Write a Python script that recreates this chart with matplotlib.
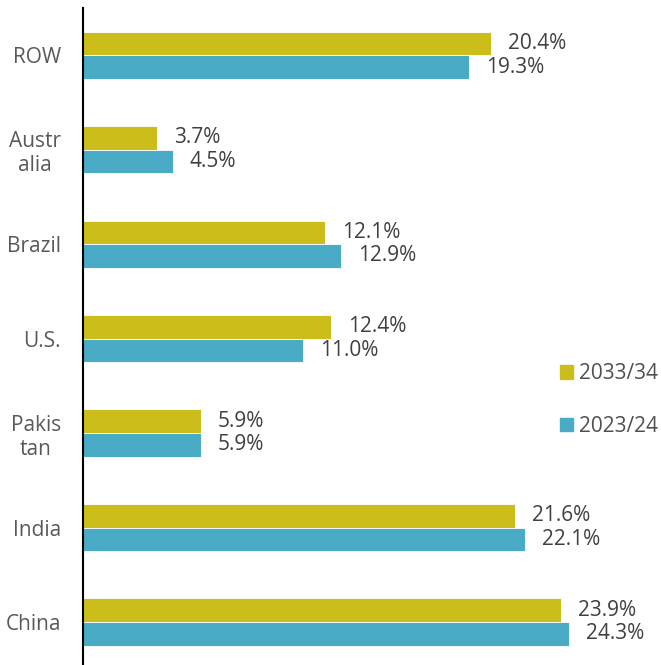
import numpy as np
import matplotlib.pyplot as plt
from matplotlib.patches import Patch

paises = ['China', 'India', 'Pakis\ntan', 'U.S.', 'Brazil', 'Austr\nalia', 'ROW']
valores_2033 = [23.9, 21.6, 5.9, 12.4, 12.1, 3.7, 20.4]
valores_2023 = [24.3, 22.1, 5.9, 11.0, 12.9, 4.5, 19.3]

cor_2033 = '#CBBE1A'
cor_2023 = '#4AABC6'

plt.rcParams['font.family'] = ['Open Sans', 'DejaVu Sans']

fig = plt.figure(figsize=(6.61, 6.65), dpi=100)
ax = fig.add_axes([83 / 661, 0, 1 - 83 / 661, 1 - 8 / 665])

y = np.arange(len(paises))
altura = 0.25
b1 = ax.barh(y + altura / 2, valores_2033, height=altura, color=cor_2033, edgecolor='white', linewidth=0.6)
b2 = ax.barh(y - altura / 2, valores_2023, height=altura, color=cor_2023, edgecolor='white', linewidth=0.6)

for barras, vals in [(b1, valores_2033), (b2, valores_2023)]:
    for barra, v in zip(barras, vals):
        ax.annotate(f'{v:.1f}%', (barra.get_width(), barra.get_y() + barra.get_height() / 2),
                    xytext=(12, 0), textcoords='offset points', va='center', ha='left',
                    fontsize=15, color='#404040')

ax.set_xlim(0, 28.9)
ax.set_ylim(-0.455, 6.5)
ax.set_yticks(y)
ax.set_yticklabels(paises, fontsize=15, color='#595959', multialignment='center')
ax.tick_params(axis='y', length=0, pad=16)
ax.set_xticks([])
for lado in ['top', 'right', 'bottom']:
    ax.spines[lado].set_visible(False)
ax.spines['left'].set_linewidth(1.5)
ax.spines['left'].set_color('black')

handles = [Patch(color=cor_2033, label='2033/34'), Patch(color=cor_2023, label='2023/24')]
fig.legend(handles=handles, loc='center left', bbox_to_anchor=(550 / 661, 1 - 400 / 665),
           frameon=False, fontsize=15, handlelength=0.62, handleheight=0.62,
           handletextpad=0.25, labelspacing=1.5, borderpad=0, labelcolor='#505050')

fig.savefig('out.png', dpi=100)
